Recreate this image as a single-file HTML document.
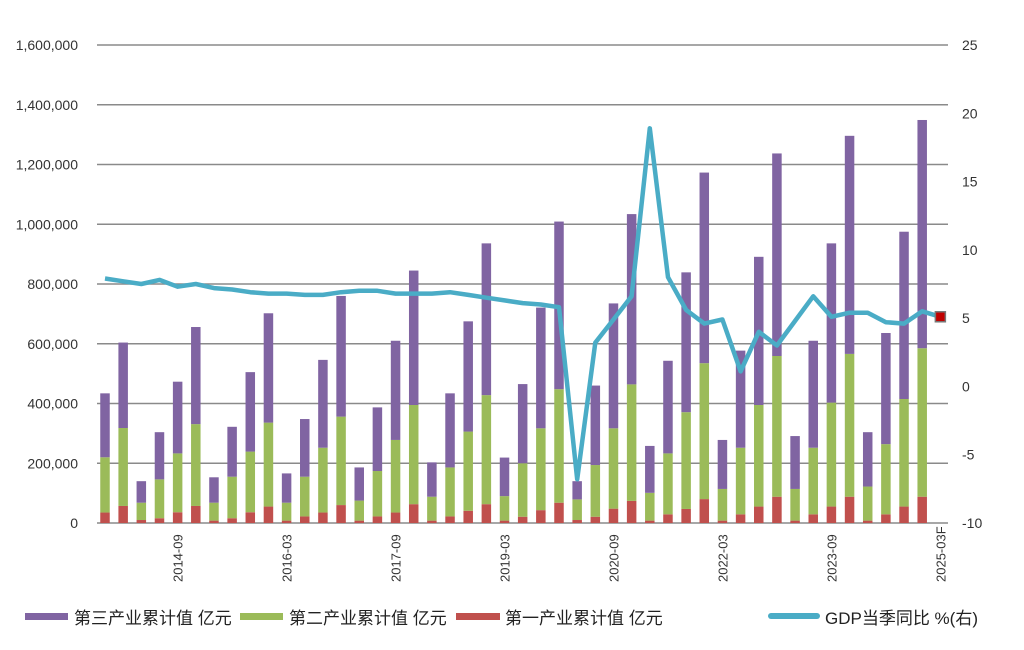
<!DOCTYPE html>
<html><head><meta charset="utf-8">
<style>
html,body{margin:0;padding:0;background:#fff;width:1024px;height:650px;overflow:hidden}
svg text{font-family:"Liberation Sans","Noto Sans CJK SC",sans-serif}
</style></head>
<body>
<svg id="chart" width="1024" height="650" viewBox="0 0 1024 650" xmlns="http://www.w3.org/2000/svg">
  <g id="grid"></g>
  <g id="yleft"></g>
  <g id="yright"></g>
  <g id="bars"></g>
  <g id="line"></g>
  <g id="xaxis"></g>
  <g id="legend">
    <g>
      <rect x="25" y="613" width="43" height="7" fill="#8064a2"/>
      <text x="74" y="624" font-size="17" fill="#222">第三产业累计值 亿元</text>
    </g>
    <g>
      <rect x="240" y="613" width="43" height="7" fill="#9bbb59"/>
      <text x="289" y="624" font-size="17" fill="#222">第二产业累计值 亿元</text>
    </g>
    <g>
      <rect x="456" y="613" width="44" height="7" fill="#c0504d"/>
      <text x="505" y="624" font-size="17" fill="#222">第一产业累计值 亿元</text>
    </g>
    <g>
      <rect x="768" y="613" width="52" height="6" rx="3" fill="#4aacc6"/>
      <text x="825" y="624" font-size="17" fill="#222">GDP当季同比 %(右)</text>
    </g>
  </g>
</svg>
<script>
const categories = ["2013-09","2013-12","2014-03","2014-06","2014-09","2014-12","2015-03","2015-06","2015-09","2015-12","2016-03","2016-06","2016-09","2016-12","2017-03","2017-06","2017-09","2017-12","2018-03","2018-06","2018-09","2018-12","2019-03","2019-06","2019-09","2019-12","2020-03","2020-06","2020-09","2020-12","2021-03","2021-06","2021-09","2021-12","2022-03","2022-06","2022-09","2022-12","2023-03","2023-06","2023-09","2023-12","2024-03","2024-06","2024-09","2024-12","2025-03F"];
// cumulative values, 100 million yuan (in thousands for readability)
const primary = [35,57,10,16,36,57,8,16,36,55,8,22,35,60,8,22,35,63,8,22,41,63,8,21,43,68,10,21,48,74,8,29,47,80,8,29,55,88,8,29,55,88,8,29,55,88];
const secondary = [185,261,58,130,197,274,60,139,203,281,60,133,217,296,67,152,243,332,80,164,265,365,82,179,274,380,69,173,269,390,93,204,324,455,106,223,340,471,106,223,348,478,114,235,360,497];
const tertiary = [214,286,72,158,240,325,85,167,266,366,98,193,294,404,111,213,332,450,115,248,369,508,129,265,404,561,61,266,418,570,157,310,468,638,164,325,496,678,177,358,533,730,182,372,560,764];
const gdpGrowth = [7.9,7.7,7.5,7.8,7.3,7.5,7.2,7.1,6.9,6.8,6.8,6.7,6.7,6.9,7.0,7.0,6.8,6.8,6.8,6.9,6.7,6.5,6.3,6.1,6.0,5.8,-6.8,3.2,4.9,6.6,18.9,8.0,5.6,4.6,4.9,1.1,4.0,3.0,4.8,6.6,5.1,5.4,5.4,4.7,4.6,5.5,5.1];
const leftTicks = [0,200,400,600,800,1000,1200,1400,1600];
const leftTickLabels = ["0","200,000","400,000","600,000","800,000","1,000,000","1,200,000","1,400,000","1,600,000"];
const rightTicks = [-10,-5,0,5,10,15,20,25];
const xLabelEvery = 6, xLabelStart = 4;

const NS="http://www.w3.org/2000/svg";
const X0=105, DX=18.16, BW=9.5;
const yL = v => 523 - (v/1600)*478;
const yR = v => 523 - ((v+10)/35)*478;
const xB = i => X0 + i*DX;
function mk(tag, attrs, parent){const e=document.createElementNS(NS,tag);for(const k in attrs)e.setAttribute(k,attrs[k]);parent.appendChild(e);return e;}

const grid=document.getElementById('grid'), yl=document.getElementById('yleft'), yr=document.getElementById('yright');
leftTicks.forEach((t,i)=>{
  const g=mk('line',{x1:97,x2:948,y1:yL(t),y2:yL(t),stroke:'#8a8a8a','stroke-width':1.5},grid);
  
  
  const tx=mk('text',{x:78,y:yL(t)+5,'text-anchor':'end','font-size':14,fill:'#333'},yl);
  tx.textContent=leftTickLabels[i];
  
  
});
rightTicks.forEach(t=>{
  const tx=mk('text',{x:962,y:yR(t)+5,'font-size':14,fill:'#333'},yr);
  tx.textContent=String(t);
  
  
});

const bars=document.getElementById('bars');
for(let i=0;i<primary.length;i++){
  const p=primary[i], s=secondary[i], t=tertiary[i];
  const x=xB(i)-BW/2;
  const r1=mk('rect',{x:x,y:yL(p),width:BW,height:yL(0)-yL(p),fill:'#c0504d'},bars);
  
  
  const r2=mk('rect',{x:x,y:yL(p+s),width:BW,height:yL(p)-yL(p+s),fill:'#9bbb59'},bars);
  
  
  const r3=mk('rect',{x:x,y:yL(p+s+t),width:BW,height:yL(p+s)-yL(p+s+t),fill:'#8064a2'},bars);
  
  
}

const lg=document.getElementById('line');
const pts=gdpGrowth.map((v,i)=>xB(i).toFixed(1)+','+yR(v).toFixed(1)).join(' ');
const pl=mk('polyline',{points:pts,fill:'none',stroke:'#4aacc6','stroke-width':4.5,'stroke-linejoin':'round'},lg);


const li=gdpGrowth.length-1;
const mkr=mk('rect',{x:xB(li)-5,y:yR(gdpGrowth[li])-5,width:10,height:10,fill:'#c00000',stroke:'#777','stroke-width':1.5},lg);



const xa=document.getElementById('xaxis');
for(let i=xLabelStart;i<categories.length;i+=xLabelEvery){
  const x=xB(i)+5, y=582;
  const tx=mk('text',{x:x,y:y,'font-size':13,fill:'#333',transform:`rotate(-90 ${x} ${y})`},xa);
  tx.textContent=categories[i];
  
  
}
</script>
</body></html>
